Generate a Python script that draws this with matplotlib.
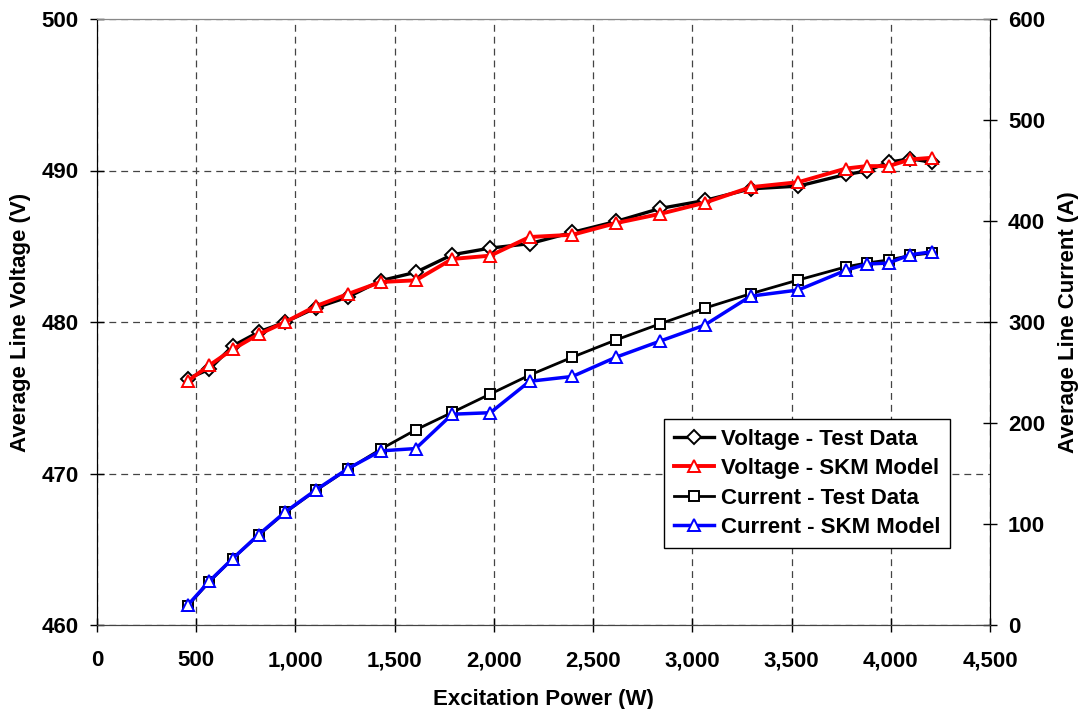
import matplotlib
matplotlib.use("Agg")
import matplotlib.pyplot as plt
from matplotlib.ticker import FuncFormatter, MultipleLocator

plt.rcParams["font.family"] = ["Liberation Sans", "DejaVu Sans"]
plt.rcParams["font.weight"] = "bold"

# Excitation power (W)
power = [457, 566, 684, 815, 949, 1105, 1265, 1430, 1606, 1790, 1982, 2180,
         2396, 2616, 2839, 3062, 3294, 3534, 3774, 3878, 3989, 4099, 4206]

# Average line voltage (V)
voltage_test = [476.26, 476.88, 478.42, 479.34, 480.00, 480.95, 481.65, 482.73,
                483.28, 484.44, 484.88, 485.17, 485.92, 486.64, 487.50, 488.02,
                488.79, 488.97, 489.74, 489.96, 490.55, 490.77, 490.55]
voltage_model = [476.10, 477.14, 478.20, 479.19, 480.00, 481.06, 481.85, 482.64,
                 482.75, 484.16, 484.38, 485.61, 485.76, 486.53, 487.14, 487.87,
                 488.90, 489.23, 490.13, 490.29, 490.29, 490.73, 490.84]

# Average line current (A)
current_test = [19.0, 42.7, 65.8, 89.0, 111.4, 133.5, 154.3, 174.1, 193.2, 210.5,
                228.7, 247.4, 265.2, 282.3, 298.3, 313.7, 328.0, 341.6, 354.6,
                358.4, 361.4, 365.9, 368.3]
current_model = [19.6, 43.4, 65.8, 89.6, 112.0, 134.0, 154.9, 172.4, 174.7, 208.7,
                 210.2, 241.3, 246.1, 265.2, 281.2, 296.9, 325.6, 331.7, 351.2,
                 357.3, 358.4, 366.6, 369.5]

fig = plt.figure(figsize=(10.8, 7.09), dpi=100)
ax = fig.add_axes([97 / 1080, 1 - 625 / 709, 893 / 1080, 606 / 709])
ax2 = ax.twinx()

FS = 16

# Voltage series on the left axis
l1, = ax.plot(power, voltage_test, color="black", lw=2.4, marker="D", ms=7.0,
              mfc="white", mec="black", mew=1.4, label="Voltage - Test Data", zorder=3)
l2, = ax.plot(power, voltage_model, color="red", lw=2.8, marker="^", ms=9.0,
              mfc="white", mec="red", mew=1.4, label="Voltage - SKM Model", zorder=4)

# Current series on the right axis
l3, = ax2.plot(power, current_test, color="black", lw=2.0, marker="s", ms=7.6,
               mfc="white", mec="black", mew=1.4, label="Current - Test Data", zorder=3)
l4, = ax2.plot(power, current_model, color="blue", lw=2.5, marker="^", ms=9.0,
               mfc="white", mec="blue", mew=1.4, label="Current - SKM Model", zorder=4)

ax.set_xlim(0, 4500)
ax.set_ylim(460, 500)
ax2.set_ylim(0, 600)
ax.xaxis.set_major_locator(MultipleLocator(500))
ax.yaxis.set_major_locator(MultipleLocator(10))
ax2.yaxis.set_major_locator(MultipleLocator(100))
ax.xaxis.set_major_formatter(FuncFormatter(lambda v, p: f"{int(v):,}"))

grid_kw = dict(color="#444444", lw=0.9, linestyle=(0, (5.5, 4)))
ax.grid(True, axis="both", **grid_kw)
ax.set_axisbelow(True)

for a in (ax, ax2):
    a.tick_params(direction="inout", length=10, width=1, labelsize=FS, pad=8)
    for lab in a.get_xticklabels() + a.get_yticklabels():
        lab.set_fontweight("bold")
ax.tick_params(axis="x", pad=13)

ax.spines["top"].set_color("#888888")
ax2.spines["top"].set_color("#888888")
ax.spines["bottom"].set_color("#444444")
ax2.spines["bottom"].set_color("#444444")
for a in (ax, ax2):
    a.spines["left"].set_color("black")
    a.spines["right"].set_color("black")

ax.set_xlabel("Excitation Power (W)", fontsize=FS, fontweight="bold", labelpad=13)
ax.set_ylabel("Average Line Voltage (V)", fontsize=FS, fontweight="bold", labelpad=8)
ax2.set_ylabel("Average Line Current (A)", fontsize=FS, fontweight="bold", labelpad=9)

leg = ax2.legend(handles=[l1, l2, l3, l4], loc="lower left",
                 bbox_to_anchor=(0.635, 0.127), borderaxespad=0,
                 prop={"size": FS, "weight": "bold"}, frameon=True, fancybox=False,
                 framealpha=1, edgecolor="black", handlelength=1.8,
                 handletextpad=0.3, labelspacing=0.38, borderpad=0.45)
leg.get_frame().set_linewidth(1.0)

fig.savefig("out.png", dpi=100)
